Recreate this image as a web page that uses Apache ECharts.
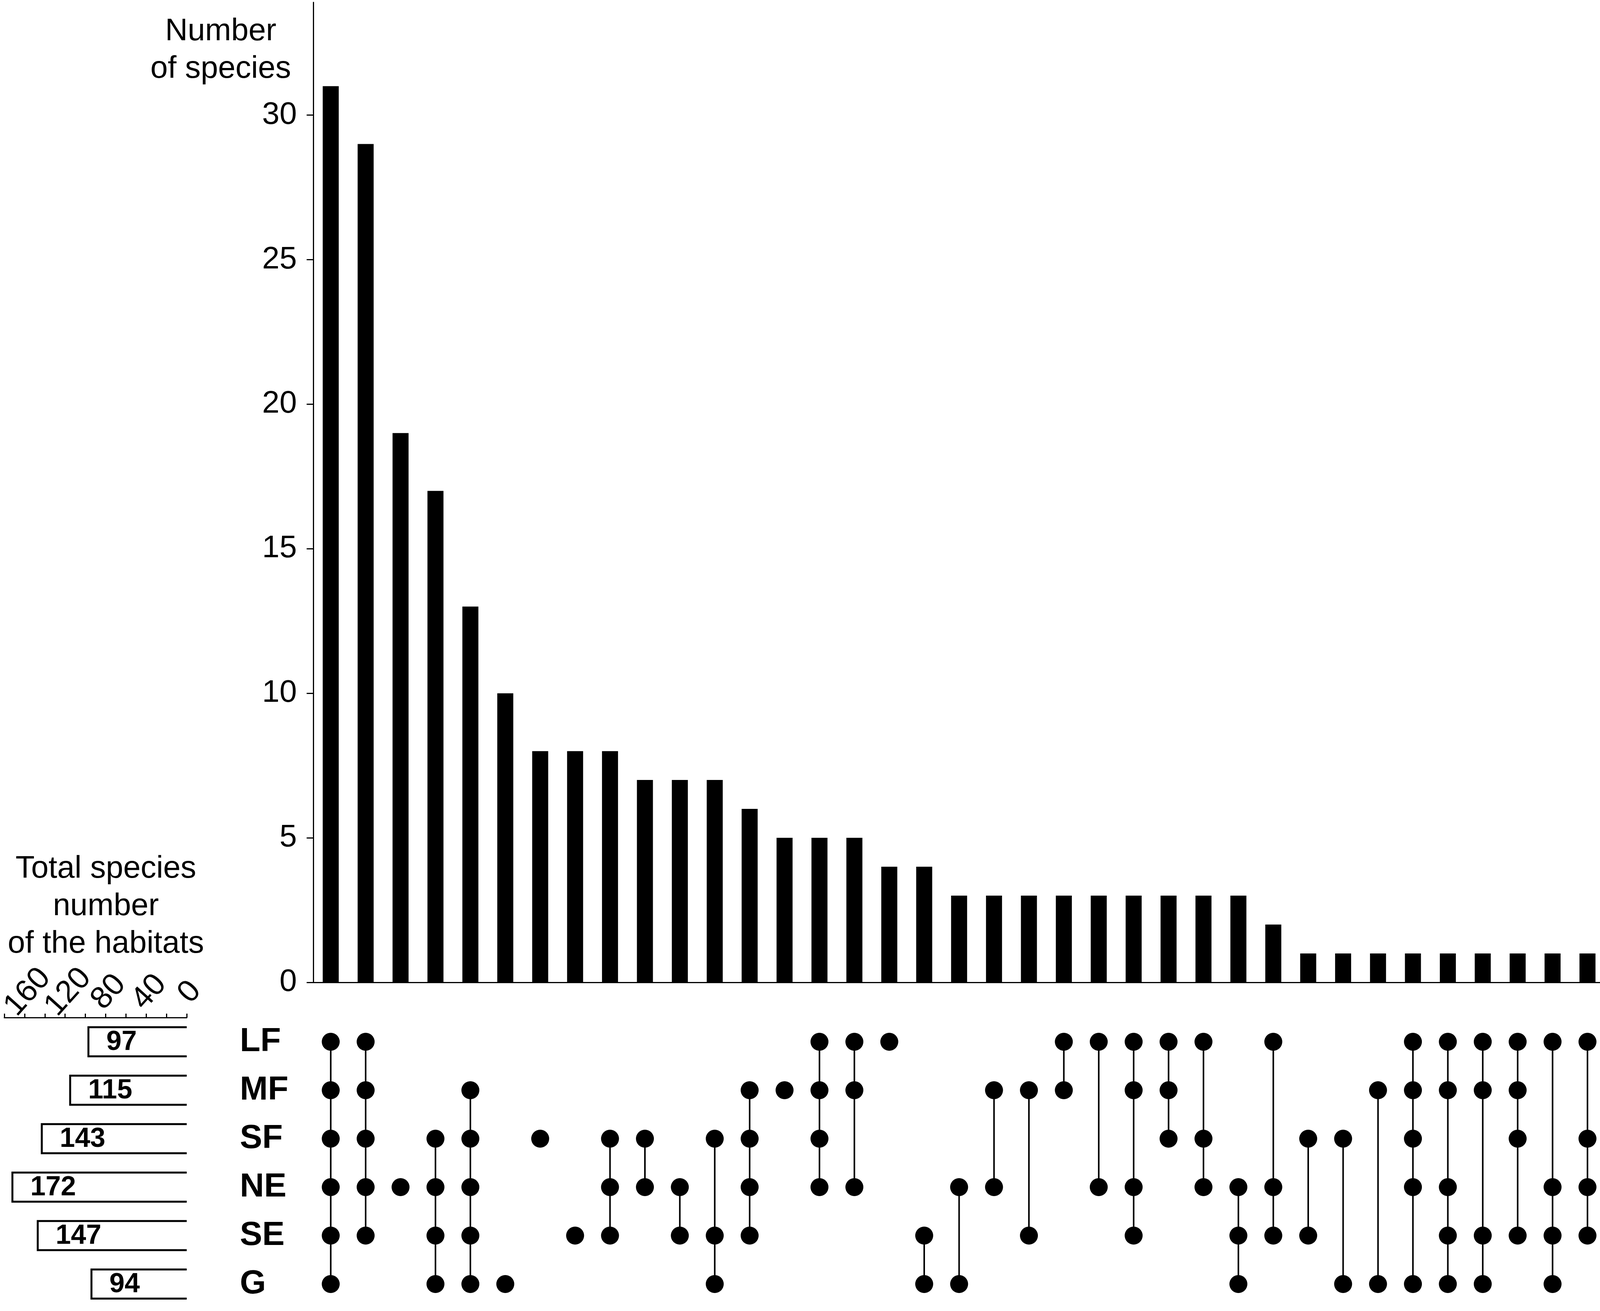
<!DOCTYPE html>
<html><head><meta charset="utf-8">
<script src="https://cdn.jsdelivr.net/npm/echarts@6/dist/echarts.min.js"></script>
<style>html,body{margin:0;padding:0;background:#fff;overflow:hidden}#c{width:4205px;height:3355px}</style>
</head><body><div id="c"></div>
<script>
const sets = ['LF','MF','SF','NE','SE','G'];
const setTotals = [97,115,143,172,147,94];
const intersectionCounts = [31,29,19,17,13,10,8,8,8,7,7,7,6,5,5,5,4,4,3,3,3,3,3,3,3,3,3,2,1,1,1,1,1,1,1,1,1,1];
const intersectionMembers = [
  ['LF','MF','SF','NE','SE','G'],
  ['LF','MF','SF','NE','SE'],
  ['NE'],
  ['SF','NE','SE','G'],
  ['MF','SF','NE','SE','G'],
  ['G'],
  ['SF'],
  ['SE'],
  ['SF','NE','SE'],
  ['SF','NE'],
  ['NE','SE'],
  ['SF','SE','G'],
  ['MF','SF','NE','SE'],
  ['MF'],
  ['LF','MF','SF','NE'],
  ['LF','MF','NE'],
  ['LF'],
  ['SE','G'],
  ['NE','G'],
  ['MF','NE'],
  ['MF','SE'],
  ['LF','MF'],
  ['LF','NE'],
  ['LF','MF','NE','SE'],
  ['LF','MF','SF'],
  ['LF','SF','NE'],
  ['NE','SE','G'],
  ['LF','NE','SE'],
  ['SF','SE'],
  ['SF','G'],
  ['MF','G'],
  ['LF','MF','SF','NE','G'],
  ['LF','MF','NE','SE','G'],
  ['LF','MF','SE','G'],
  ['LF','MF','SF','SE'],
  ['LF','NE','SE','G'],
  ['LF','SF','NE','SE'],
  ['MF','SF','NE']
];
const countTicks = [0,5,10,15,20,25,30];
const totalTickLabels = [0,40,80,120,160];
const yTitle = 'Number\nof species';
const leftTitle = 'Total species\nnumber\nof the habitats';

const FONT = 'Liberation Sans, Arial, sans-serif';
const categories = intersectionMembers.map(m => m.join('&'));

const dots = [];
const links = [];
intersectionMembers.forEach((m, i) => {
  const idx = m.map(s => sets.indexOf(s));
  idx.forEach(r => dots.push([i, r]));
  if (idx.length > 1) links.push([i, Math.min(...idx), Math.max(...idx)]);
});

const chart = echarts.init(document.getElementById('c'), null, {renderer: 'canvas'});
chart.setOption({
  animation: false,
  backgroundColor: '#fff',
  textStyle: {fontFamily: FONT, color: '#000'},
  graphic: [
    {type: 'text', x: 565, y: 33, style: {text: yTitle, font: '80px ' + FONT, fill: '#000', textAlign: 'center', textVerticalAlign: 'top', lineHeight: 96}},
    {type: 'text', x: 271, y: 2176, style: {text: leftTitle, font: '80px ' + FONT, fill: '#000', textAlign: 'center', textVerticalAlign: 'top', lineHeight: 96}}
  ],
  grid: [
    {left: 802, right: 7, top: 6, bottom: 841, containLabel: false, outerBoundsMode: 'none'},
    {left: 802, right: 7, top: 2604, height: 744, containLabel: false, outerBoundsMode: 'none'},
    {left: 11, width: 467, top: 2604, height: 744, containLabel: false, outerBoundsMode: 'none'}
  ],
  xAxis: [
    {gridIndex: 0, type: 'category', data: categories, boundaryGap: true,
     axisLine: {show: true, lineStyle: {color: '#000', width: 3}},
     axisTick: {show: false}, axisLabel: {show: false}, splitLine: {show: false}},
    {gridIndex: 1, type: 'category', data: categories, boundaryGap: true, show: false},
    {gridIndex: 2, type: 'value', inverse: true, position: 'top', min: 0, max: 180, interval: 20,
     axisLine: {show: true, lineStyle: {color: '#000', width: 3}},
     axisTick: {show: true, inside: false, length: 10, lineStyle: {color: '#000', width: 3}},
     axisLabel: {show: true, showMinLabel: true, showMaxLabel: true, hideOverlap: false,
                 formatter: v => (totalTickLabels.indexOf(v) >= 0 ? String(v) : ''),
                 rotate: -48, align: 'center', verticalAlign: 'middle', margin: 56, padding: [0, 0, 0, 24],
                 fontSize: 80, color: '#000', fontFamily: FONT},
     splitLine: {show: false}}
  ],
  yAxis: [
    {gridIndex: 0, type: 'value', min: 0, max: 33.9, interval: 5,
     axisLine: {show: true, lineStyle: {color: '#000', width: 3}},
     axisTick: {show: true, customValues: countTicks, length: 17, lineStyle: {color: '#000', width: 3}},
     axisLabel: {show: true, customValues: countTicks, showMinLabel: true, showMaxLabel: true, fontSize: 80, color: '#000', margin: 42, fontFamily: FONT},
     splitLine: {show: false}},
    {gridIndex: 1, type: 'category', data: sets, inverse: true,
     axisLine: {show: false}, axisTick: {show: false}, splitLine: {show: false},
     axisLabel: {show: true, align: 'left', margin: 188, fontSize: 86, fontWeight: 'bold', color: '#000', fontFamily: FONT}},
    {gridIndex: 2, type: 'category', data: sets, inverse: true, show: false}
  ],
  series: [
    {type: 'bar', xAxisIndex: 0, yAxisIndex: 0, data: intersectionCounts, barWidth: 41,
     itemStyle: {color: '#000'}},
    {type: 'custom', xAxisIndex: 1, yAxisIndex: 1, data: links, encode: {x: 0, y: [1, 2]}, z: 2,
     renderItem: function (params, api) {
       const p1 = api.coord([api.value(0), api.value(1)]);
       const p2 = api.coord([api.value(0), api.value(2)]);
       return {type: 'line', shape: {x1: p1[0], y1: p1[1], x2: p2[0], y2: p2[1]},
               style: {stroke: '#000', lineWidth: 4}};
     }},
    {type: 'scatter', xAxisIndex: 1, yAxisIndex: 1, data: dots, symbol: 'circle', symbolSize: 46, z: 3,
     itemStyle: {color: '#000', opacity: 1}},
    {type: 'custom', xAxisIndex: 2, yAxisIndex: 2, data: setTotals.map((v, i) => [i, v]), encode: {x: 1, y: 0},
     renderItem: function (params, api) {
       const r = api.value(0), v = api.value(1);
       const c0 = api.coord([0, r]);
       const c1 = api.coord([v, r]);
       const h = api.size([0, 1])[1] * 0.6;
       return {type: 'group', children: [
         {type: 'polyline', shape: {points: [[c0[0], c0[1] - h / 2], [c1[0], c0[1] - h / 2], [c1[0], c0[1] + h / 2], [c0[0], c0[1] + h / 2]]},
          style: {stroke: '#000', lineWidth: 5, fill: null}},
         {type: 'text', style: {text: String(v), x: c1[0] + 46, y: c0[1] + 2, textAlign: 'left', textVerticalAlign: 'middle',
          font: 'bold 70px ' + FONT, fill: '#000'}}
       ]};
     }}
  ]
});
</script>
</body></html>
